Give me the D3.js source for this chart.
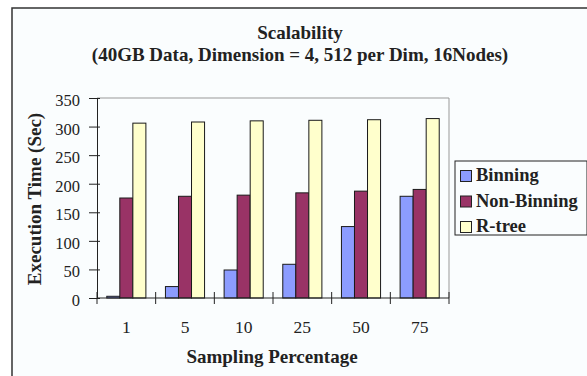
<!DOCTYPE html>
<html>
<head>
<meta charset="utf-8">
<script src="https://cdnjs.cloudflare.com/ajax/libs/d3/7.8.5/d3.min.js"></script>
<style>
  body { margin: 0; background: #ffffff; }
  svg { display: block; }
</style>
</head>
<body>
<div id="vizDiv"></div>
<script>
var width = 587
var height = 376

// data
var categories = ["1", "5", "10", "25", "50", "75"]
var seriesNames = ["Binning", "Non-Binning", "R-tree"]
var binning = [3, 20, 49, 59, 125, 178]
var nonBinning = [175, 178, 180, 184, 187, 190]
var rtree = [306, 308, 310, 311, 312, 314]
var seriesColors = ["#8c9cff", "#993366", "#ffffcc"]
var yTicks = [0, 50, 100, 150, 200, 250, 300, 350]

var values = [binning, nonBinning, rtree]
var serif = "'Liberation Serif', 'Times New Roman', serif"

var plotLeft = 97, plotRight = 449, plotTop = 98, plotBottom = 298

var svg = d3.select("#vizDiv")
  .append("svg")
  .attr("width", width)
  .attr("height", height)

// chart frame
svg.append("rect")
  .attr("x", 12).attr("y", 8)
  .attr("width", width).attr("height", height)
  .attr("fill", "#fafdfe")
svg.append("path")
  .attr("d", "M12," + height + "V8H" + width)
  .attr("fill", "none")
  .attr("stroke", "#333")
  .attr("stroke-width", 1.5)

// title
var title = svg.append("text")
  .attr("text-anchor", "middle")
  .attr("font-family", serif)
  .attr("font-weight", "bold")
  .attr("font-size", 19)
  .attr("fill", "#222")
title.append("tspan").attr("x", 300).attr("y", 39).text("Scalability")
title.append("tspan").attr("x", 300).attr("y", 61).text("(40GB Data, Dimension = 4, 512 per Dim, 16Nodes)")

// scales
var x0 = d3.scaleBand()
  .domain(categories)
  .range([plotLeft, plotRight])
  .padding(0)

var x1 = d3.scaleBand()
  .domain(seriesNames)
  .range([0, x0.bandwidth()])
  .paddingInner(0)
  .paddingOuter(0.75)

var y = d3.scaleLinear()
  .domain([0, 350])
  .range([plotBottom, plotTop])

// plot area border (top/right grey)
svg.append("path")
  .attr("d", "M" + plotLeft + "," + plotTop + "H" + plotRight + "V" + plotBottom)
  .attr("fill", "none")
  .attr("stroke", "#999")
  .attr("stroke-width", 1)

// bars
var groups = svg.selectAll(".group")
  .data(categories)
  .enter().append("g")
  .attr("class", "group")
  .attr("transform", function(d) { return "translate(" + x0(d) + ",0)" })

groups.selectAll("rect")
  .data(function(d, i) {
    return seriesNames.map(function(s, j) { return { name: s, value: values[j][i], color: seriesColors[j] } })
  })
  .enter().append("rect")
  .attr("x", function(d) { return x1(d.name) })
  .attr("y", function(d) { return y(d.value) })
  .attr("width", x1.bandwidth())
  .attr("height", function(d) { return plotBottom - y(d.value) })
  .attr("fill", function(d) { return d.color })
  .attr("stroke", "#1a1a1a")
  .attr("stroke-width", 1)

// y axis
var yAxis = svg.append("g")
  .attr("transform", "translate(" + plotLeft + ",0)")
  .call(d3.axisLeft(y).tickValues(yTicks).tickSize(8).tickPadding(9).tickSizeOuter(0))
yAxis.selectAll("text")
  .attr("font-family", serif)
  .attr("font-size", 16.5)
  .attr("dy", "0.45em")
  .attr("fill", "#222")
yAxis.select(".domain").attr("stroke", "#222")
yAxis.selectAll(".tick line").attr("x2", 3).attr("x1", -8).attr("stroke", "#222")

// x axis (ticks cross the axis at category boundaries)
svg.append("line")
  .attr("x1", plotLeft).attr("x2", plotRight)
  .attr("y1", plotBottom).attr("y2", plotBottom)
  .attr("stroke", "#222")

var boundaries = categories.map(function(c) { return x0(c) }).concat([plotRight])
svg.selectAll(".xtick")
  .data(boundaries)
  .enter().append("line")
  .attr("class", "xtick")
  .attr("x1", function(d) { return d }).attr("x2", function(d) { return d })
  .attr("y1", plotBottom - 6).attr("y2", plotBottom + 6)
  .attr("stroke", "#222")

svg.selectAll(".xlabel")
  .data(categories)
  .enter().append("text")
  .attr("class", "xlabel")
  .attr("x", function(d) { return x0(d) + x0.bandwidth() / 2 })
  .attr("y", 333)
  .attr("text-anchor", "middle")
  .attr("font-family", serif)
  .attr("font-size", 17.5)
  .attr("fill", "#222")
  .text(function(d) { return d })

// axis titles
svg.append("text")
  .attr("x", (plotLeft + plotRight) / 2 - 1)
  .attr("y", 363)
  .attr("text-anchor", "middle")
  .attr("font-family", serif)
  .attr("font-weight", "bold")
  .attr("font-size", 19)
  .attr("fill", "#222")
  .text("Sampling Percentage")

svg.append("text")
  .attr("transform", "translate(41,199) rotate(-90)")
  .attr("text-anchor", "middle")
  .attr("font-family", serif)
  .attr("font-weight", "bold")
  .attr("font-size", 19)
  .attr("fill", "#222")
  .text("Execution Time (Sec)")

// legend
var legend = svg.append("g").attr("transform", "translate(455,161)")
legend.append("rect")
  .attr("x", 0).attr("y", 0)
  .attr("width", 132).attr("height", 74)
  .attr("fill", "#fafdfe")
  .attr("stroke", "#222")
  .attr("stroke-width", 1)

var items = legend.selectAll(".item")
  .data(seriesNames)
  .enter().append("g")
  .attr("class", "item")
  .attr("transform", function(d, i) { return "translate(0," + (i * 25.5) + ")" })

items.append("rect")
  .attr("x", 5.5).attr("y", 9.5)
  .attr("width", 11).attr("height", 11)
  .attr("fill", function(d, i) { return seriesColors[i] })
  .attr("stroke", "#222")

items.append("text")
  .attr("x", 21).attr("y", 20)
  .attr("font-family", serif)
  .attr("font-weight", "bold")
  .attr("font-size", 18.5)
  .attr("fill", "#222")
  .text(function(d) { return d })
</script>
</body>
</html>
